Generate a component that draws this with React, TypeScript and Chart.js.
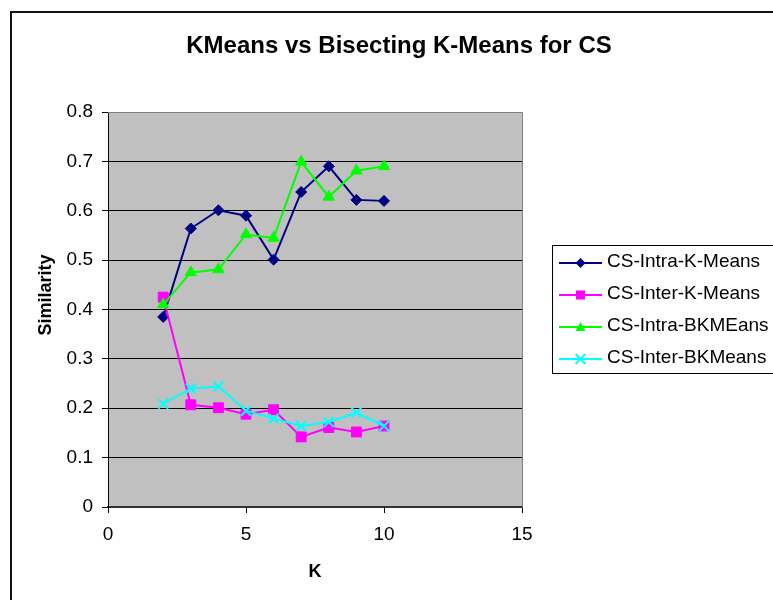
import React, { useEffect, useRef } from "react";
import { Chart, registerables } from "chart.js";

Chart.register(...registerables);

// ---- data ----
const kValues = [2, 3, 4, 5, 6, 7, 8, 9, 10];
const csIntraKMeans = [0.385, 0.564, 0.601, 0.590, 0.501, 0.638, 0.690, 0.622, 0.620];
const csInterKMeans = [0.425, 0.207, 0.201, 0.188, 0.197, 0.142, 0.161, 0.152, 0.164];
const csIntraBKMeans = [0.410, 0.475, 0.481, 0.552, 0.545, 0.699, 0.628, 0.681, 0.690];
const csInterBKMeans = [0.209, 0.240, 0.244, 0.195, 0.179, 0.164, 0.172, 0.191, 0.164];
const seriesNames = ["CS-Intra-K-Means", "CS-Inter-K-Means", "CS-Intra-BKMEans", "CS-Inter-BKMeans"];
const chartTitle = "KMeans vs Bisecting K-Means for CS";
const xAxisTitle = "K";
const yAxisTitle = "Similarity";
const xMin = 0, xMax = 15, xStep = 5;
const yMin = 0, yMax = 0.8, yStep = 0.1;

const FONT = '"Liberation Sans", Arial, Helvetica, sans-serif';

const styles = [
  { color: "#000080", pointStyle: "rectRot", radius: 5.5 },
  { color: "#FF00FF", pointStyle: "rect", radius: 7 },
  { color: "#00FF00", pointStyle: "triangle", radius: 6.5 },
  { color: "#00FFFF", pointStyle: "crossRot", radius: 7 },
];

function drawMarker(ctx: CanvasRenderingContext2D, style: string, x: number, y: number, r: number, color: string) {
  ctx.save();
  ctx.fillStyle = color;
  ctx.strokeStyle = color;
  ctx.lineWidth = 2;
  ctx.beginPath();
  if (style === "rectRot") {
    ctx.moveTo(x, y - r);
    ctx.lineTo(x + r, y);
    ctx.lineTo(x, y + r);
    ctx.lineTo(x - r, y);
    ctx.closePath();
    ctx.fill();
  } else if (style === "rect") {
    ctx.rect(x - r, y - r, 2 * r, 2 * r);
    ctx.fill();
  } else if (style === "triangle") {
    ctx.moveTo(x, y - r);
    ctx.lineTo(x + r, y + r * 0.8);
    ctx.lineTo(x - r, y + r * 0.8);
    ctx.closePath();
    ctx.fill();
  } else {
    ctx.moveTo(x - r, y - r);
    ctx.lineTo(x + r, y + r);
    ctx.moveTo(x + r, y - r);
    ctx.lineTo(x - r, y + r);
    ctx.stroke();
  }
  ctx.restore();
}

const decorPlugin = {
  id: "decor",
  beforeDraw(chart: any) {
    const { ctx, chartArea: a } = chart;
    ctx.save();
    ctx.fillStyle = "#ffffff";
    ctx.fillRect(0, 0, chart.width, chart.height);
    ctx.fillStyle = "#C0C0C0";
    ctx.fillRect(a.left, a.top, a.right - a.left, a.bottom - a.top);
    // outer frame
    ctx.strokeStyle = "#111";
    ctx.lineWidth = 2;
    ctx.strokeRect(11, 12, 2000, 2000);
    // title
    ctx.fillStyle = "#000";
    ctx.font = `bold 24px ${FONT}`;
    ctx.textAlign = "center";
    ctx.textBaseline = "alphabetic";
    ctx.fillText(chartTitle, 399, 53);
    // y axis title
    ctx.save();
    ctx.translate(51, 295);
    ctx.rotate(-Math.PI / 2);
    ctx.font = `bold 18px ${FONT}`;
    ctx.textAlign = "center";
    ctx.fillText(yAxisTitle, 0, 0);
    ctx.restore();
    ctx.restore();
  },
  beforeDatasetsDraw(chart: any) {
    const { ctx, chartArea: a } = chart;
    ctx.save();
    ctx.strokeStyle = "#808080";
    ctx.lineWidth = 1;
    ctx.beginPath();
    ctx.moveTo(a.left, Math.round(a.top) + 0.5);
    ctx.lineTo(Math.round(a.right) + 0.5, Math.round(a.top) + 0.5);
    ctx.lineTo(Math.round(a.right) + 0.5, a.bottom);
    ctx.stroke();
    ctx.restore();
  },
  afterDraw(chart: any) {
    const { ctx } = chart;
    ctx.save();
    ctx.strokeStyle = "#000";
    ctx.lineWidth = 1;
    ctx.strokeRect(552.5, 245.5, 400, 128);
    ctx.font = `19px ${FONT}`;
    ctx.textAlign = "left";
    ctx.textBaseline = "alphabetic";
    chart.data.datasets.forEach((ds: any, i: number) => {
      const y = 263 + i * 32;
      const st = styles[i];
      ctx.strokeStyle = st.color;
      ctx.lineWidth = 2;
      ctx.beginPath();
      ctx.moveTo(559, y);
      ctx.lineTo(602, y);
      ctx.stroke();
      drawMarker(ctx, st.pointStyle, 580.5, y, st.pointStyle === "rect" ? 4.5 : 5, st.color);
      ctx.fillStyle = "#000";
      ctx.fillText(ds.label, 607, y + 4);
    });
    ctx.restore();
  },
};

export default function App() {
  const ref = useRef<HTMLCanvasElement | null>(null);

  useEffect(() => {
    if (!ref.current) return;
    const seriesValues = [csIntraKMeans, csInterKMeans, csIntraBKMeans, csInterBKMeans];
    const datasets = seriesValues.map((vals, i) => ({
      label: seriesNames[i],
      data: kValues.map((k, j) => ({ x: k, y: vals[j] })),
      borderColor: styles[i].color,
      backgroundColor: styles[i].color,
      pointBackgroundColor: styles[i].color,
      pointBorderColor: styles[i].color,
      pointStyle: styles[i].pointStyle,
      pointRadius: styles[i].radius,
      pointBorderWidth: styles[i].pointStyle === "crossRot" ? 2 : 1,
      borderWidth: 2,
      tension: 0,
      fill: false,
      showLine: true,
      order: 3 - i,
    }));

    const chart = new Chart(ref.current, {
      type: "line",
      data: { datasets } as any,
      plugins: [decorPlugin],
      options: {
        animation: false,
        responsive: false,
        maintainAspectRatio: false,
        events: [],
        layout: { padding: { top: 112, left: 0, right: 251, bottom: 0 } },
        plugins: {
          legend: { display: false },
          title: { display: false },
          tooltip: { enabled: false },
        },
        scales: {
          x: {
            type: "linear",
            min: xMin,
            max: xMax,
            ticks: {
              stepSize: xStep,
              color: "#000",
              font: { size: 19, family: FONT },
              padding: 10,
              maxRotation: 0,
            },
            grid: { drawOnChartArea: false, drawTicks: true, tickLength: 6, color: "#000" },
            border: { display: true, color: "#333", width: 2 },
            title: {
              display: true,
              text: xAxisTitle,
              color: "#000",
              font: { size: 18, weight: "bold", family: FONT },
              padding: { top: 0, bottom: 17 },
            },
            afterFit: (s: any) => {
              s.height = 93;
            },
          },
          y: {
            type: "linear",
            min: yMin,
            max: yMax,
            ticks: {
              stepSize: yStep,
              color: "#000",
              font: { size: 19, family: FONT },
              padding: 9,
            },
            grid: { color: "#000", lineWidth: 1, tickLength: 6 },
            border: { display: true, color: "#000", width: 1 },
            afterFit: (s: any) => {
              s.width = 108;
            },
          },
        },
      } as any,
    });
    return () => chart.destroy();
  }, []);

  return (
    <div style={{ position: "fixed", left: 0, top: 0, width: 773, height: 600 }}>
      <canvas ref={ref} width={773} height={600} style={{ display: "block", width: 773, height: 600 }} />
    </div>
  );
}
